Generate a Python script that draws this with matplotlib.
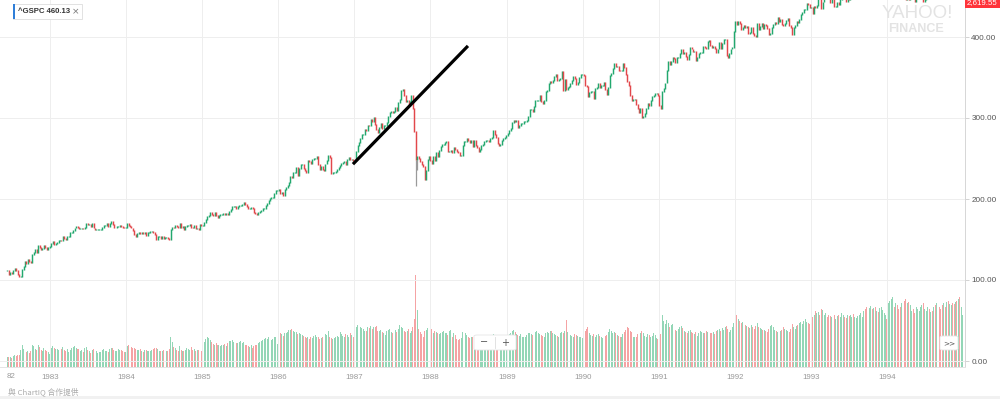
import numpy as np
import pandas as pd
import matplotlib
matplotlib.use('Agg')
import matplotlib.pyplot as plt
import matplotlib.dates as mdates
from matplotlib.patches import Rectangle, FancyBboxPatch

# weekly closes of ^GSPC (Friday)
close_1982 = [111, 107, 109, 108, 111, 114, 112, 107, 104, 104, 113, 117, 123, 120, 125,
              123, 122, 131, 134, 137, 134, 142, 140, 137, 139, 143, 140, 138, 140, 141]
close_1983 = [145, 147, 144, 145, 146, 148, 149, 148, 153, 151, 150, 153, 153, 158, 159,
              161, 164, 166, 165, 163, 163, 164, 163, 165, 170, 168, 168, 166, 169, 164,
              162, 162, 162, 162, 162, 165, 167, 167, 169, 166, 170, 172, 168, 164, 164,
              166, 166, 167, 166, 165, 164, 165]
close_1984 = [169, 167, 166, 164, 161, 156, 154, 157, 159, 157, 158, 157, 159, 155, 158,
              158, 160, 160, 158, 156, 150, 153, 153, 151, 153, 151, 152, 152, 151, 150,
              162, 165, 164, 167, 166, 164, 169, 165, 166, 162, 166, 167, 167, 168, 165,
              164, 167, 163, 163, 162, 168, 167]
close_1985 = [167, 171, 175, 178, 180, 183, 181, 179, 183, 180, 177, 179, 181, 181, 182,
              181, 182, 181, 184, 187, 190, 190, 191, 188, 190, 192, 192, 193, 195, 193,
              191, 188, 188, 189, 188, 183, 182, 181, 183, 184, 186, 188, 188, 192, 194,
              198, 201, 202, 202, 207, 210, 210]
close_1986 = [211, 206, 208, 204, 212, 214, 216, 220, 227, 226, 233, 233, 239, 229, 238,
              242, 242, 238, 235, 233, 247, 246, 244, 248, 250, 250, 252, 242, 236, 240,
              236, 235, 243, 247, 253, 251, 231, 232, 232, 234, 236, 239, 241, 244, 245,
              246, 242, 249, 251, 248, 249, 247]
close_1987 = [247, 259, 266, 270, 274, 280, 280, 286, 284, 291, 290, 298, 296, 300, 292,
              286, 282, 288, 293, 287, 290, 290, 294, 302, 307, 308, 306, 308, 313, 309,
              319, 323, 334, 335, 327, 320, 322, 315, 320, 328, 311, 283, 248, 252, 250,
              246, 242, 240, 224, 235, 249, 252]
close_1988 = [247, 243, 252, 247, 257, 252, 260, 265, 267, 267, 269, 271, 258, 259, 260,
              257, 264, 261, 258, 257, 253, 253, 266, 271, 271, 274, 272, 270, 272, 264,
              272, 266, 263, 259, 261, 266, 267, 271, 272, 272, 271, 275, 276, 284, 279,
              276, 268, 266, 267, 272, 274, 276, 278]
close_1989 = [281, 284, 287, 294, 297, 295, 297, 288, 291, 293, 293, 295, 295, 297, 302,
              310, 310, 308, 314, 321, 322, 322, 327, 320, 318, 321, 332, 334, 342, 345,
              344, 346, 351, 354, 346, 347, 349, 357, 334, 347, 335, 338, 339, 342, 346,
              351, 349, 341, 344, 350, 353, 353]
close_1990 = [352, 340, 339, 326, 331, 333, 333, 324, 336, 338, 342, 337, 340, 340, 344,
              335, 329, 338, 352, 355, 361, 367, 363, 363, 359, 358, 358, 367, 362, 353,
              345, 340, 328, 321, 323, 323, 317, 311, 306, 312, 300, 302, 305, 312, 318,
              315, 322, 326, 327, 330, 330, 328]
close_1991 = [315, 312, 332, 336, 343, 359, 369, 366, 370, 374, 373, 368, 375, 375, 380,
              384, 379, 381, 376, 372, 378, 387, 385, 382, 382, 371, 374, 380, 381, 381,
              388, 387, 386, 394, 395, 389, 387, 388, 386, 381, 385, 393, 385, 392, 397,
              397, 377, 375, 379, 385, 387, 407]
close_1992 = [419, 415, 419, 416, 409, 412, 414, 412, 413, 404, 405, 411, 404, 402, 401,
              416, 409, 413, 416, 410, 415, 414, 410, 403, 404, 412, 415, 418, 416, 424,
              419, 421, 415, 414, 417, 420, 423, 414, 411, 403, 412, 414, 419, 418, 422,
              427, 430, 434, 434, 441, 440, 436]
close_1993 = [436, 429, 437, 436, 439, 449, 448, 435, 443, 449, 456, 451, 448, 442, 448,
              449, 437, 438, 442, 440, 446, 450, 450, 447, 444, 448, 446, 448, 449, 447,
              448, 448, 450, 456, 461, 461, 462, 459, 458, 461, 461, 470, 463, 468, 463,
              465, 463, 463, 465, 465, 466, 467, 466]
close_1994 = [470, 471, 475, 479, 470, 470, 468, 467, 465, 466, 471, 461, 446, 447, 446,
              449, 451, 448, 444, 455, 457, 459, 459, 459, 443, 446, 448, 454, 453, 458,
              457, 462, 461, 468, 471, 468, 465, 461, 463, 455, 469, 465, 465, 472, 467,
              462, 462, 452, 453, 447, 459, 459]

# weekly volume, millions of shares
vol_1982 = [250, 240, 260, 230, 280, 300, 270, 290, 300, 430, 560, 440, 470, 380, 410,
            360, 400, 550, 520, 460, 420, 540, 500, 430, 390, 480, 420, 400, 370, 330]
vol_1983 = [470, 520, 480, 440, 460, 430, 510, 440, 490, 420, 400, 450, 380, 430, 470,
            500, 520, 480, 460, 440, 400, 420, 380, 470, 500, 430, 390, 360, 420, 440,
            450, 400, 360, 380, 370, 430, 440, 410, 390, 380, 450, 470, 480, 420, 410,
            400, 450, 430, 420, 400, 380, 370]
vol_1984 = [520, 560, 540, 500, 480, 470, 450, 430, 420, 440, 400, 380, 420, 430, 410,
            390, 400, 420, 450, 470, 480, 440, 410, 400, 390, 420, 380, 400, 390, 450,
            760, 620, 500, 470, 420, 390, 520, 430, 400, 410, 430, 470, 450, 420, 500,
            430, 460, 400, 420, 430, 520, 410]
vol_1985 = [540, 620, 700, 760, 720, 680, 620, 580, 560, 600, 540, 560, 520, 540, 560,
            580, 520, 600, 650, 640, 680, 620, 600, 590, 610, 630, 640, 600, 620, 560,
            540, 520, 500, 560, 480, 520, 560, 540, 600, 620, 650, 680, 700, 720, 690,
            740, 720, 680, 700, 740, 760, 580]
vol_1986 = [900, 860, 820, 780, 860, 840, 880, 940, 920, 960, 900, 880, 880, 830, 860,
            820, 800, 780, 760, 720, 740, 700, 750, 730, 780, 800, 760, 740, 700, 720,
            740, 780, 820, 800, 900, 760, 720, 700, 720, 740, 780, 760, 880, 820, 780,
            760, 820, 800, 760, 840, 790, 740]
vol_1987 = [920, 1000, 1050, 1050, 1000, 980, 960, 900, 900, 1000, 980, 1040, 960, 1010,
            1000, 1040, 900, 900, 920, 880, 860, 800, 900, 940, 960, 880, 850, 900, 920,
            880, 950, 1050, 1000, 980, 900, 880, 900, 960, 860, 900, 1000, 1200, 2300,
            1430, 950, 880, 820, 760, 900, 940, 980, 800]
vol_1988 = [800, 960, 860, 900, 880, 860, 820, 840, 880, 900, 840, 860, 800, 900, 920,
            760, 860, 800, 700, 680, 700, 720, 880, 920, 860, 800, 740, 720, 760, 760,
            700, 780, 700, 680, 640, 700, 720, 760, 700, 680, 700, 760, 780, 820, 800,
            740, 760, 700, 720, 740, 760, 800, 700]
vol_1989 = [800, 820, 840, 900, 920, 880, 820, 800, 780, 820, 760, 740, 760, 800, 840,
            860, 820, 800, 840, 880, 900, 840, 820, 800, 780, 760, 860, 880, 840, 900,
            900, 840, 820, 800, 780, 760, 860, 880, 840, 900, 1170, 880, 860, 800, 780,
            760, 820, 800, 780, 760, 740, 720]
vol_1990 = [820, 900, 960, 1000, 860, 800, 780, 820, 760, 800, 820, 780, 740, 720, 760,
            780, 800, 880, 960, 900, 860, 880, 840, 800, 780, 760, 760, 820, 880, 920,
            1000, 980, 900, 880, 760, 740, 760, 820, 880, 860, 900, 840, 780, 760, 820,
            800, 760, 780, 840, 800, 720, 700]
vol_1991 = [800, 820, 1300, 1150, 1080, 1180, 1100, 1000, 1050, 1080, 980, 940, 900, 960,
            1000, 1020, 980, 900, 880, 860, 900, 920, 880, 860, 820, 880, 780, 860, 900,
            880, 860, 840, 900, 880, 800, 840, 860, 880, 820, 900, 920, 960, 900, 980,
            940, 1000, 1020, 960, 880, 920, 1000, 1100]
vol_1992 = [1400, 1300, 1200, 1150, 1100, 1120, 1080, 1050, 1040, 1000, 980, 1060, 1000,
            960, 1020, 1100, 1000, 980, 960, 940, 920, 900, 880, 960, 1040, 1060, 1000,
            940, 900, 880, 860, 900, 940, 1000, 960, 920, 900, 880, 960, 1080, 1000, 960,
            1040, 1060, 1100, 1120, 1080, 1160, 1200, 1140, 1100, 1080]
vol_1993 = [1100, 1260, 1300, 1400, 1350, 1380, 1300, 1450, 1420, 1300, 1350, 1250, 1300,
            1280, 1260, 1240, 1300, 1200, 1280, 1300, 1250, 1350, 1300, 1250, 1220, 1300,
            1280, 1300, 1260, 1320, 1250, 1230, 1280, 1300, 1350, 1250, 1400, 1460, 1500,
            1420, 1480, 1520, 1460, 1480, 1500, 1400, 1380, 1480, 1500, 1420, 1350, 1300,
            1200]
vol_1994 = [1600, 1650, 1700, 1750, 1500, 1600, 1550, 1450, 1500, 1600, 1550, 1650, 1700,
            1600, 1620, 1550, 1400, 1450, 1350, 1500, 1450, 1400, 1500, 1550, 1600, 1450,
            1400, 1500, 1450, 1380, 1400, 1500, 1550, 1600, 1520, 1500, 1450, 1550, 1600,
            1500, 1620, 1650, 1580, 1550, 1600, 1580, 1620, 1650, 1700, 1750, 1500, 1300]

years = list(range(1982, 1995))
close_lists = [close_1982, close_1983, close_1984, close_1985, close_1986, close_1987,
               close_1988, close_1989, close_1990, close_1991, close_1992, close_1993,
               close_1994]
vol_lists = [vol_1982, vol_1983, vol_1984, vol_1985, vol_1986, vol_1987, vol_1988,
             vol_1989, vol_1990, vol_1991, vol_1992, vol_1993, vol_1994]

# crash weeks with long lower shadows
wick_dates = ['1987-10-23', '1987-10-30', '1987-12-04']
wick_lows = [216, 236, 223]

# hand-drawn trend line
trend_dates = ['1986-12-25', '1988-06-29']
trend_values = [243, 389]

year_ticks = list(range(1983, 1995))
price_ticks = [0, 100, 200, 300, 400]


def week_dates(year, n):
    start = '1982-06-11' if year == 1982 else f'{year}-01-01'
    return pd.date_range(start, periods=n, freq='W-FRI')


dates = pd.DatetimeIndex(np.concatenate([week_dates(y, len(c)).values
                                         for y, c in zip(years, close_lists)]))
closes = np.concatenate([np.array(c, float) for c in close_lists])
vols = np.concatenate([np.array(v, float) for v in vol_lists])
opens = np.r_[closes[0], closes[:-1]]
xd = mdates.date2num(dates)
up = closes >= opens

GREEN = '#22a86e'
RED = '#e2474b'
VGREEN = '#93d6b6'
VRED = '#f5a3a4'

W, H = 1000, 399
fig = plt.figure(figsize=(W / 100, H / 100), dpi=100)
rect = [0, (H - 367) / H, 965 / W, 367 / H]

# pixel scale: 76.1 px per year, 1983-01-01 at x=50
px_per_day = 76.1 / 365.25
x0 = mdates.date2num(pd.Timestamp('1983-01-01')) - 50 / px_per_day
x1 = x0 + 965 / px_per_day

# volume panel underneath
axv = fig.add_axes(rect)
axv.bar(xd, vols, width=4.6, color=np.where(up, VGREEN, VRED), linewidth=0)
axv.set_xlim(x0, x1)
axv.set_ylim(0, 9200)
axv.axis('off')

ax = fig.add_axes(rect)
ax.set_facecolor('none')
ax.set_xlim(x0, x1)
ax.set_ylim((361 - 367) / 0.81, 361 / 0.81)

# candles
ax.vlines(xd, np.minimum(opens, closes) - 0.4, np.maximum(opens, closes) + 0.8,
          colors=np.where(up, GREEN, RED), linewidth=1.05, zorder=3)
wx = mdates.date2num(pd.to_datetime(wick_dates))
wtop = [min(opens[i], closes[i]) for i in [np.argmin(np.abs(xd - w)) for w in wx]]
ax.vlines(wx, wick_lows, wtop, colors='#9a9a9a', linewidth=0.9, zorder=2)

ax.plot(mdates.date2num(pd.to_datetime(trend_dates)), trend_values,
        color='black', linewidth=2.3, solid_capstyle='butt', zorder=5)

# axes styling
ax.set_xticks(mdates.date2num([pd.Timestamp(f'{y}-01-01') for y in year_ticks]))
ax.set_xticklabels([str(y) for y in year_ticks], fontsize=5.7, color='#999999',
                   family='Liberation Sans')
ax.tick_params(axis='x', length=0, pad=5)
ax.yaxis.tick_right()
ax.set_yticks(price_ticks)
ax.set_yticklabels([f'{v:.2f}' for v in price_ticks], fontsize=5.9, color='#555555',
                   family='Liberation Sans')
ax.tick_params(axis='y', length=3, width=0.6, color='#cccccc', pad=1.5)
ax.grid(True, color='#eeeeee', linewidth=0.7)
ax.set_axisbelow(True)
for side in ['top', 'left']:
    ax.spines[side].set_visible(False)
ax.spines['right'].set_color('#d6d6d6')
ax.spines['bottom'].set_color('#e4e4e4')
ax.spines['right'].set_linewidth(0.7)
ax.spines['bottom'].set_linewidth(0.7)


def fx(x):
    return x / W


def fy(y):
    return 1 - y / H


# clipped 1982 label at the left edge
fig.text(fx(11), fy(377), '82', fontsize=5.7, color='#999999', ha='center',
         va='center', family='Liberation Sans')

# series legend chip
fig.patches.append(Rectangle((fx(13), fy(19)), fx(69), 15 / H, transform=fig.transFigure,
                             facecolor='white', edgecolor='#dddddd', linewidth=0.6))
fig.patches.append(Rectangle((fx(13), fy(19)), fx(2), 15 / H, transform=fig.transFigure,
                             facecolor='#2f7ed8', edgecolor='none'))
fig.text(fx(18.5), fy(11.5), '^GSPC 460.13', fontsize=5.6, color='#333333',
         fontweight='bold', va='center', family='Liberation Sans')
fig.text(fx(76), fy(11.5), '×', fontsize=6.5, color='#777777', va='center', ha='center')

# watermark
fig.text(fx(917), fy(13), 'YAHOO!', fontsize=13.5, color='#e3e3e3', ha='center',
         va='center', family='Liberation Sans')
fig.text(fx(916), fy(29), 'FINANCE', fontsize=9, color='#e3e3e3', ha='center',
         va='center', family='Liberation Sans', fontweight='bold')

# last price flag
fig.patches.append(Rectangle((fx(965), fy(7.5)), fx(35), 12 / H, transform=fig.transFigure,
                             facecolor='#ff333a', edgecolor='none'))
fig.text(fx(982), fy(3), '2,619.55', fontsize=5.7, color='white', ha='center',
         va='center', family='Liberation Sans')

# zoom buttons
fig.patches.append(FancyBboxPatch((fx(474), fy(350)), fx(42), 15 / H,
                                  boxstyle='round,pad=0,rounding_size=0.003',
                                  transform=fig.transFigure, facecolor='white',
                                  edgecolor='#e6e6e6', linewidth=0.6, zorder=10))
fig.text(fx(484), fy(342.5), '−', fontsize=7, color='#555555', ha='center', va='center',
         zorder=11)
fig.text(fx(505), fy(342.5), '+', fontsize=7, color='#555555', ha='center', va='center',
         zorder=11)
fig.lines.append(plt.Line2D([fx(495), fx(495)], [fy(337), fy(348)],
                            transform=fig.transFigure, color='#dddddd', linewidth=0.6,
                            zorder=11))
fig.patches.append(FancyBboxPatch((fx(940), fy(350)), fx(18), 14 / H,
                                  boxstyle='round,pad=0,rounding_size=0.003',
                                  transform=fig.transFigure, facecolor='white',
                                  edgecolor='#e6e6e6', linewidth=0.6, zorder=10))
fig.text(fx(949), fy(343), '>>', fontsize=5.3, color='#555555', ha='center', va='center',
         zorder=11)

# credit line and footer strip
fig.text(fx(8), fy(392), '與 ChartIQ 合作提供', fontsize=5.6, color='#aaaaaa',
         va='center', family=['Noto Sans CJK TC', 'DejaVu Sans'])
fig.patches.append(Rectangle((0, 0), 1, 3.5 / H, transform=fig.transFigure,
                             facecolor='#f1f1f1', edgecolor='none'))

fig.savefig('out.png', dpi=100)
